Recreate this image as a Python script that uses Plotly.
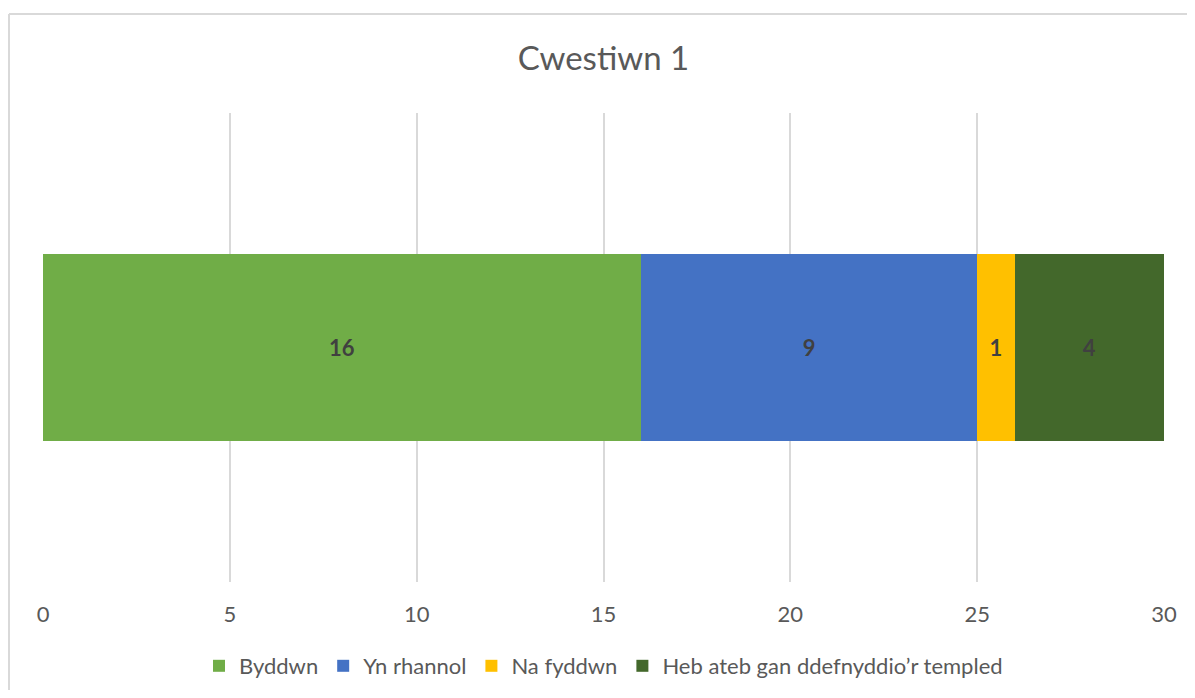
import plotly.graph_objects as go

categories = ["Cwestiwn 1"]
series_names = ["Byddwn", "Yn rhannol", "Na fyddwn", "Heb ateb gan ddefnyddio\u2019r templed"]
series_values = [[16], [9], [1], [4]]
series_colors = ["#70AD47", "#4472C4", "#FFC000", "#43682B"]
tick_values = [0, 5, 10, 15, 20, 25, 30]

FONT = "Lato, 'Open Sans', sans-serif"

# page body has an 8px margin; compensate so marks land where the reference has them
OFF = 8
W, H = 1195 - 2 * OFF, 698 - 2 * OFF
L, T = 43 - OFF, 113 - OFF
R = 1195 - 1164 - OFF
B = H - (582 - OFF)
PW = W - L - R
PH = H - T - B

fig = go.Figure()
for name, vals, col in zip(series_names, series_values, series_colors):
    fig.add_trace(go.Bar(
        y=categories, x=vals, name=name, orientation="h",
        marker=dict(color=col, line=dict(width=0)),
        text=[str(v) for v in vals], textposition="inside",
        insidetextanchor="middle",
        textfont=dict(family=FONT, size=22, color="#404040", weight="bold"),
    ))

bx = (9 - 43) / PW
by = (582 - 14) / PH

fig.update_layout(
    barmode="stack",
    bargap=0.6,
    width=W, height=H,
    margin=dict(l=L, r=R, t=T, b=B, autoexpand=False),
    paper_bgcolor="white", plot_bgcolor="white",
    font=dict(family=FONT, color="#595959"),
    title=dict(text="Cwestiwn 1", x=0.5, xref="paper", xanchor="center",
               y=1 - (58 - OFF) / H, yref="container", yanchor="middle",
               font=dict(family=FONT, size=33, color="#595959")),
    xaxis=dict(range=[0, 30], tickvals=tick_values, showgrid=True,
               gridcolor="#D9D9D9", gridwidth=1.5, zeroline=False,
               showline=False, ticks="", ticklabelstandoff=17,
               tickfont=dict(family=FONT, size=22, color="#595959")),
    yaxis=dict(showticklabels=False, showgrid=False, zeroline=False,
               showline=False),
    legend=dict(orientation="h", x=0.5, xanchor="center", xref="paper",
                y=1 - (666 - OFF) / H, yanchor="middle", yref="container",
                font=dict(family=FONT, size=22, color="#595959"),
                traceorder="normal", itemclick=False),
    showlegend=True,
    shapes=[
        dict(type="line", xref="paper", yref="paper",
             x0=bx, x1=1.1, y0=by, y1=by,
             line=dict(color="#D9D9D9", width=2)),
        dict(type="line", xref="paper", yref="paper",
             x0=bx, x1=bx, y0=by, y1=-0.4,
             line=dict(color="#D9D9D9", width=2)),
    ],
)

fig.write_html("out.html")
